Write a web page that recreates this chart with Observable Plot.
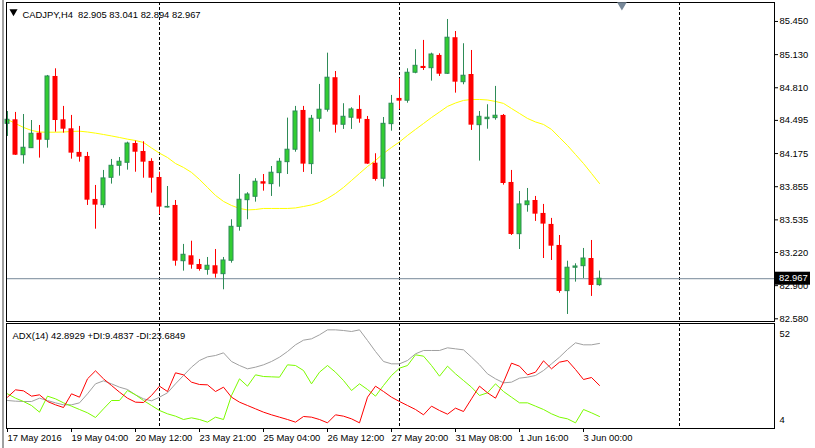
<!DOCTYPE html>
<html><head><meta charset="utf-8">
<script src="https://cdn.jsdelivr.net/npm/d3@7"></script>
<script src="https://cdn.jsdelivr.net/npm/@observablehq/plot@0.6"></script>
<style>
html,body{margin:0;padding:0;background:#fff;}
#wrap{position:relative;width:815px;height:448px;overflow:hidden;background:#fff;}
#wrap svg{position:absolute;left:0;}
#chrome{position:absolute;left:2px;top:0;width:2px;height:448px;background:#a0a0a0;}
</style></head>
<body><div id="wrap"><div id="chrome"></div></div>
<script>
// ---- data (CADJPY, H4) ----
const symbolTitle = "CADJPY,H4  82.905 83.041 82.894 82.967";
const adxTitle = "ADX(14) 42.8929 +DI:9.4837 -DI:23.6849";
const opens = [84.462,84.501,84.159,84.227,84.372,84.308,84.919,84.501,84.414,84.186,84.147,83.732,83.677,83.941,84.057,84.086,84.272,84.195,84.099,83.944,83.654,83.674,83.136,83.188,83.104,83.053,83.092,83.011,83.140,83.468,83.725,83.758,83.903,83.880,83.986,84.092,84.212,84.591,84.073,84.511,84.598,84.907,84.453,84.521,84.601,84.504,84.082,83.932,84.459,84.707,84.685,84.955,85.016,84.999,85.122,84.945,85.293,84.864,84.938,84.449,84.507,84.517,84.543,83.896,83.397,83.677,83.722,83.597,83.491,83.288,82.847,83.073,83.088,83.162,82.905];
const highs = [84.581,84.572,84.552,84.494,84.446,84.929,84.993,84.630,84.543,84.437,84.186,83.867,84.012,84.118,84.137,84.285,84.295,84.289,84.125,83.995,83.857,83.722,83.298,83.329,83.153,83.172,83.249,83.172,83.536,83.973,83.797,83.932,83.973,84.050,84.128,84.517,84.630,84.630,84.543,84.842,85.144,84.967,84.656,84.617,84.733,84.533,84.173,84.523,84.736,84.897,84.993,85.177,85.267,85.144,85.138,85.469,85.353,85.235,85.170,84.581,84.646,84.823,84.552,84.012,83.809,83.838,83.761,83.684,83.549,83.384,83.136,83.111,83.259,83.336,83.041];
const lows = [84.340,84.157,84.073,84.224,84.131,84.227,84.382,84.372,84.121,84.092,83.674,83.445,83.648,83.880,83.957,84.015,83.995,83.937,83.793,83.587,83.650,83.088,83.040,83.059,83.040,83.001,82.972,82.860,83.117,83.426,83.536,83.706,83.812,83.761,83.851,83.973,84.188,83.993,83.973,84.382,84.575,84.372,84.408,84.408,84.468,84.070,83.909,83.851,84.391,84.601,84.661,84.945,84.977,84.874,84.919,84.938,84.758,84.839,84.398,84.102,84.410,84.497,83.870,83.384,83.249,83.609,83.520,83.162,83.143,82.827,82.622,82.934,82.969,82.796,82.894];
const closes = [84.501,84.159,84.231,84.366,84.304,84.919,84.494,84.410,84.179,84.140,83.725,83.677,83.935,84.057,84.096,84.272,84.188,84.092,83.937,83.658,83.660,83.136,83.198,83.098,83.056,83.092,83.011,83.143,83.468,83.729,83.780,83.903,83.880,83.990,84.096,84.212,84.581,84.073,84.511,84.598,84.907,84.449,84.530,84.601,84.507,84.073,83.925,84.462,84.656,84.681,84.955,85.022,84.996,85.131,84.941,85.293,84.864,84.926,84.449,84.530,84.521,84.540,83.886,83.394,83.684,83.713,83.590,83.494,83.281,82.844,83.073,83.085,83.162,82.902,82.967];
const movingAvg = [84.504,84.465,84.427,84.398,84.383,84.381,84.381,84.383,84.388,84.391,84.383,84.372,84.359,84.345,84.330,84.314,84.301,84.282,84.229,84.179,84.137,84.079,84.041,83.993,83.925,83.848,83.771,83.713,83.674,83.645,83.631,83.635,83.645,83.645,83.645,83.645,83.650,83.664,83.679,83.703,83.742,83.790,83.848,83.915,83.983,84.050,84.108,84.176,84.234,84.287,84.350,84.408,84.465,84.523,84.576,84.630,84.663,84.688,84.697,84.697,84.692,84.678,84.659,84.610,84.562,84.514,84.480,84.456,84.408,84.330,84.253,84.166,84.079,83.983,83.886];
const adxLine = [16.80,16.49,16.34,16.34,17.86,16.80,15.73,14.82,14.82,15.73,19.85,24.42,25.79,24.42,22.89,21.83,19.39,17.56,16.65,18.32,20.31,24.42,28.23,32.04,35.09,36.76,37.37,38.59,34.63,32.80,31.28,32.04,33.11,34.63,36.61,39.20,42.25,44.38,44.99,46.82,49.10,49.10,48.80,48.34,49.10,44.23,39.20,34.63,33.56,33.56,35.09,38.13,39.66,39.66,39.66,40.88,40.42,39.96,36.61,33.11,28.99,26.71,24.88,25.18,27.01,27.47,28.23,30.51,33.56,36.61,40.12,43.16,42.25,42.25,42.89];
const plusDI = [19.85,17.86,16.34,14.51,11.47,18.78,17.56,15.73,14.21,12.69,11.17,9.03,12.99,16.80,16.80,21.37,19.39,16.80,14.51,12.23,10.71,9.64,8.11,8.88,8.11,6.90,9.18,8.11,19.09,26.71,23.35,28.53,27.77,27.62,27.47,33.11,32.80,30.51,24.42,29.75,32.80,29.75,25.94,21.37,24.42,21.83,18.78,23.66,28.23,31.58,32.80,37.68,37.07,32.80,27.92,32.49,28.99,25.94,22.89,19.09,20.31,24.42,20.91,18.32,15.73,15.73,14.21,12.69,10.71,9.18,8.42,6.59,12.69,11.17,9.48];
const minusDI = [18.32,21.68,21.22,18.78,19.39,16.34,14.82,13.60,19.85,18.32,26.71,30.36,26.71,23.66,20.61,17.86,16.04,15.89,19.09,23.35,20.91,29.45,28.53,25.18,24.11,23.96,20.91,22.89,18.32,16.04,14.51,12.99,11.47,10.25,9.18,8.11,6.90,9.49,9.18,8.11,6.59,10.25,9.64,8.42,6.59,18.32,23.35,20.91,18.32,16.34,14.51,12.69,10.25,14.21,12.23,10.55,13.30,11.77,17.56,23.35,20.31,17.86,25.18,33.87,32.49,28.53,29.75,34.93,31.28,34.32,35.09,30.97,26.40,27.31,23.68];
const timeLabels = ["17 May 2016","19 May 04:00","20 May 12:00","23 May 21:00","25 May 04:00","26 May 12:00","27 May 20:00","31 May 08:00","1 Jun 16:00","3 Jun 00:00"];
const timeLabelBars = [0,8,16,24,32,40,48,56,64,72];
const priceTicks = [85.450,85.130,84.810,84.495,84.175,83.855,83.535,83.220,82.900,82.580];
const adxScaleLabels = [52,4];
const separatorBars = [19,49,84];
const shiftMarkerBar = 76.8;
const lastClose = 82.967;

// ---- layout ----
const W = 815;
const xDomain = [-0.125, 95.875];
const FONT = "'Liberation Sans', Arial, sans-serif";
const font = {fontFamily: FONT, fontSize: "9.4px", color: "#000", background: "transparent", overflow: "visible"};
const bars = opens.map((o, i) => ({i, o, h: highs[i], l: lows[i], c: closes[i], up: closes[i] >= o}));
const upBars = bars.filter(d => d.up), downBars = bars.filter(d => !d.up);
const idx = (d, i) => i;

const main = Plot.plot({
  width: W, height: 322, marginLeft: 6, marginRight: 41, marginTop: 2, marginBottom: 1,
  x: {domain: xDomain, axis: null},
  y: {domain: [82.554, 85.633], axis: null},
  style: font,
  marks: [
    Plot.ruleX(separatorBars, {x: d => d, stroke: "#000", strokeDasharray: "3,2"}),
    Plot.ruleY([lastClose], {y: d => d, stroke: "#778899"}),
    Plot.line(movingAvg, {x: idx, y: d => d, stroke: "#ffff00", strokeWidth: 1}),
    Plot.ruleX(upBars, {x: "i", y1: "l", y2: "h", stroke: "#2e8b57"}),
    Plot.ruleX(downBars, {x: "i", y1: "l", y2: "h", stroke: "#ff0000"}),
    Plot.rect(upBars, {x1: d => d.i - 0.25, x2: d => d.i + 0.25, y1: "o", y2: "c", fill: "#32cd32", stroke: "#2e8b57"}),
    Plot.rect(downBars, {x1: d => d.i - 0.3125, x2: d => d.i + 0.3125, y1: "o", y2: "c", fill: "#ff0000"}),
    Plot.frame({stroke: "#000"}),
    Plot.axisY(priceTicks, {anchor: "right", tickSize: 3, tickPadding: 2, tickFormat: d => d.toFixed(3)}),
    Plot.dot([0], {frameAnchor: "top-left", dx: 7, dy: 9, symbol: "triangle", rotate: 180, r: 3, fill: "#000", stroke: null}),
    Plot.text([symbolTitle], {frameAnchor: "top-left", dx: 16, dy: 9, textAnchor: "start", fill: "#000"}),
    Plot.dot([shiftMarkerBar], {x: d => d, frameAnchor: "top", dy: 2.5, symbol: "triangle", rotate: 180, r: 3.6, fill: "#778899", stroke: null})
  ]
});
main.style.top = "0px";
document.getElementById("wrap").appendChild(main);

// last price badge on the price scale
{
  const y = main.scale("y").apply(lastClose);
  const svg = d3.select(main);
  svg.append("rect").attr("x", 775).attr("y", y - 6.5).attr("width", 35).attr("height", 13).attr("fill", "#000");
  svg.append("text").attr("x", 779).attr("y", y).attr("dy", "0.32em").attr("fill", "#fff")
    .attr("text-anchor", "start")
    .attr("font-family", FONT).attr("font-size", "9.4px").text(lastClose.toFixed(3));
}

const sub = Plot.plot({
  width: W, height: 126, marginLeft: 6, marginRight: 41, marginTop: 1, marginBottom: 20,
  x: {domain: xDomain, axis: null},
  y: {domain: [4, 52], axis: null},
  style: font,
  marks: [
    Plot.ruleX(separatorBars, {x: d => d, stroke: "#000", strokeDasharray: "3,2"}),
    Plot.line(adxLine, {x: idx, y: d => d, stroke: "#a0a0a0", strokeWidth: 1}),
    Plot.line(plusDI, {x: idx, y: d => d, stroke: "#7cfc00", strokeWidth: 1}),
    Plot.line(minusDI, {x: idx, y: d => d, stroke: "#ff0000", strokeWidth: 1}),
    Plot.frame({stroke: "#000"}),
    Plot.axisX(timeLabelBars, {anchor: "bottom", tickSize: 4, tickPadding: 2, textAnchor: "start", tickFormat: d => timeLabels[timeLabelBars.indexOf(d)]}),
    Plot.text([adxScaleLabels[0]], {frameAnchor: "top-right", dx: 5, dy: 7, textAnchor: "start", fill: "#000"}),
    Plot.text([adxScaleLabels[1]], {frameAnchor: "bottom-right", dx: 5, dy: -6, textAnchor: "start", fill: "#000"}),
    Plot.text([adxTitle], {frameAnchor: "top-left", dx: 6, dy: 9, textAnchor: "start", fill: "#000"})
  ]
});
sub.style.top = "322px";
document.getElementById("wrap").appendChild(sub);
</script>
</body></html>
